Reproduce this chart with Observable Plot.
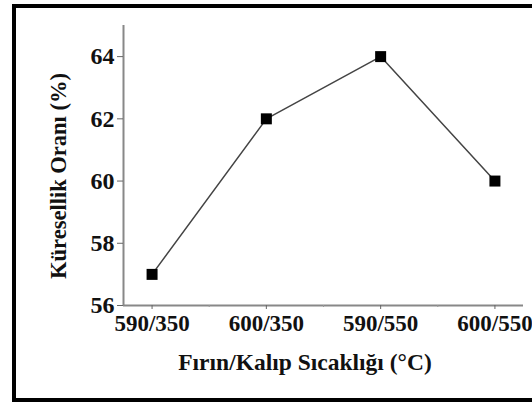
<!DOCTYPE html>
<html><head><meta charset="utf-8">
<script src="https://cdn.jsdelivr.net/npm/d3@7"></script>
<script src="https://cdn.jsdelivr.net/npm/@observablehq/plot@0.6"></script>
<style>
html,body{margin:0;padding:0;background:#fff;overflow:hidden;width:532px;height:402px;}
#frame{position:absolute;left:12px;top:4px;width:600px;height:398px;border:4px solid #000;box-sizing:border-box;}
#chart{position:absolute;left:0;top:0;}
</style></head>
<body>
<div id="frame"></div>
<div id="chart"></div>
<script>
const categories = ["590/350", "600/350", "590/550", "600/550"];
const values = [57, 62, 64, 60];
const yTicks = [56, 58, 60, 62, 64];
const xTitle = "Fırın/Kalıp Sıcaklığı (°C)";
const yTitle = "Küresellik Oranı (%)";
const xDomain = [-0.25, 3.25];
const yDomain = [56, 65];

const data = categories.map((c, i) => ({i, c, v: values[i]}));
const majorX = categories.map((c, i) => i);
const minorX = majorX.slice(0, -1).map(i => i + 0.5);
const font = "'Liberation Serif','Times New Roman',serif";

const plot = Plot.plot({
  width: 532, height: 402,
  marginLeft: 123, marginRight: 9, marginTop: 25, marginBottom: 97,
  style: {fontFamily: font, fontWeight: "bold", fontSize: "23px", color: "#000", background: "transparent", overflow: "visible"},
  x: {domain: xDomain, axis: null},
  y: {domain: yDomain, axis: null},
  marks: [
    Plot.ruleY([yDomain[0]], {stroke: "#888", strokeWidth: 2}),
    Plot.ruleX([xDomain[0]], {stroke: "#888", strokeWidth: 2}),
    Plot.axisY({ticks: yTicks, tickSize: 6, tickPadding: 3, stroke: "#666", label: null, fontSize: 24, fill: "#111"}),
    Plot.axisX({ticks: majorX, tickSize: 4, tickPadding: 5, stroke: "#666", tickFormat: i => categories[i], label: null, fontSize: 23, fill: "#111"}),
    Plot.axisX({ticks: minorX, tickSize: 2, stroke: "#999", tickFormat: () => "", label: null}),
    Plot.line(data, {x: "i", y: "v", stroke: "#444", strokeWidth: 1.5}),
    Plot.dot(data, {x: "i", y: "v", symbol: "square", r: 6.2, fill: "#000", stroke: "none"})
  ]
});
document.getElementById("chart").appendChild(plot);

const svg = d3.select(plot);
svg.append("text").text(xTitle)
  .attr("x", 305).attr("y", 370)
  .attr("text-anchor", "middle")
  .style("font-family", font).style("font-weight", "bold").style("font-size", "23.5px").attr("fill", "#111");
svg.append("text").text(yTitle)
  .attr("transform", "translate(66,176) rotate(-90)")
  .attr("text-anchor", "middle")
  .style("font-family", font).style("font-weight", "bold").style("font-size", "22.5px").attr("fill", "#111");
</script>
</body></html>
